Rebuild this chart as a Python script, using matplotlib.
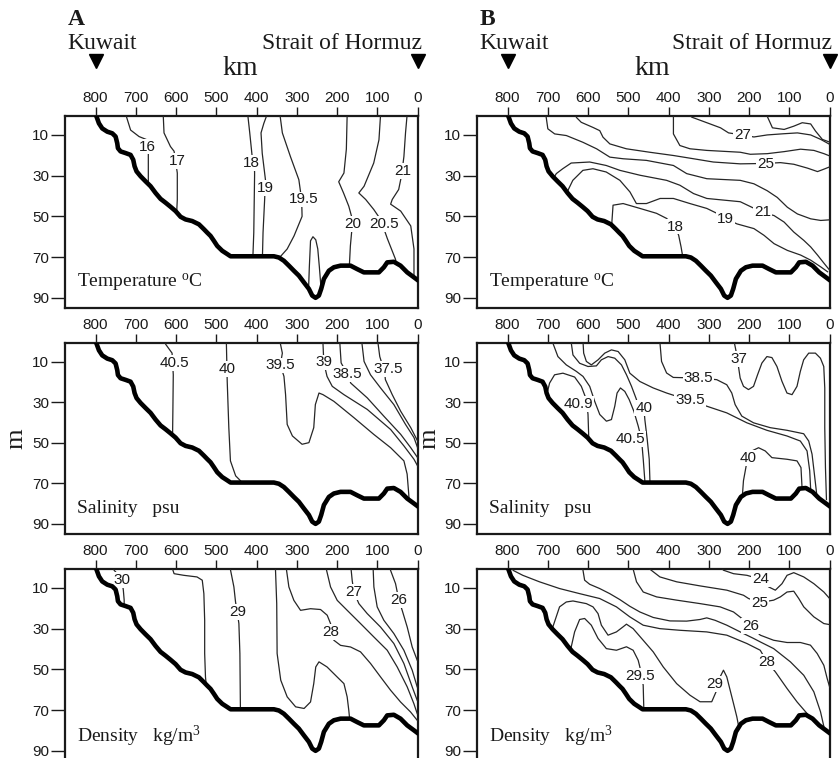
import matplotlib
matplotlib.use("Agg")
import matplotlib.pyplot as plt
from matplotlib.patches import Polygon

# ---------------- data ----------------
KM_TICKS = [800, 700, 600, 500, 400, 300, 200, 100, 0]
DEPTH_TICKS = [10, 30, 50, 70, 90]

# bottom profile (km from Strait of Hormuz, depth m)
BATHY_KM = [800, 797.5, 791.7, 783.5, 771, 758.6, 750.3, 746.2, 744.5, 737.9, 725.5, 713.1, 706.5,
            703.1, 698.2, 688.2, 675.8, 663.4, 651, 638.6, 626.1, 613.7, 601.3, 588.9, 576.5,
            559.9, 543.3, 530.9, 522.6, 514.4, 506.1, 497.8, 485.4, 473, 464.7, 357, 344.6,
            332.2, 319.8, 307.4, 295, 282.5, 270.1, 261.8, 253.5, 245.3, 239.5, 232.8, 220.4,
            208, 191.4, 166.6, 150, 133.5, 96.2, 83.8, 75.5, 59, 42.4, 25.8, 9.3, -1.5]
BATHY_D = [0, 1.1, 4.3, 6.8, 8.4, 9.2, 10.8, 14.1, 16.5, 18.1, 18.9, 19.8, 22.2,
           25.4, 27.9, 30.3, 32.8, 35.2, 38.5, 41.4, 43.3, 45.3, 47.4, 50.2, 51.5,
           52.3, 53.9, 56.3, 58, 59.6, 62, 64.5, 66.9, 68.5, 69.6, 69.6, 70.2,
           71.8, 74.2, 76.7, 79.1, 82.4, 85.6, 88.9, 90, 88.9, 85.6, 80.7, 76.7,
           75, 74.2, 74.2, 75.9, 77.5, 77.5, 75, 72.6, 72.3, 74.2, 77.5, 79.9, 81.5]

# Temperature, winter (A)
TEMP_A_LINES = [
    ([725, 713, 692, 672, 669, 669], [0, 7.6, 10.8, 12.4, 17, 36]),                        # 16
    ([632, 630, 614, 605, 597, 597, 599], [0, 9, 15.7, 18, 28.7, 41.7, 50]),              # 17
    ([422, 417, 411, 405, 405, 407, 410], [0, 9, 20.6, 28, 30, 58, 74]),                  # 18
    ([374, 382, 389, 386, 378, 380, 384, 386], [0, 4.3, 9, 19, 32, 41.7, 58, 74]),        # 19
    ([342, 336, 316, 295, 288, 287, 307, 324, 342, 352], [0, 9, 20.6, 32, 42, 50, 59.6, 66, 70, 73]),  # 19.5
    ([272, 269, 266, 260, 253, 248, 244, 240], [92, 75, 62, 60, 61.5, 66, 75, 85]),       # 19.5 tongue
    ([175, 177, 183, 196, 184, 171, 162, 164, 167, 171], [0, 17, 28.7, 33, 38.5, 45, 51.5, 58, 64.5, 80]),  # 20
    ([92, 96, 109, 133, 146, 129, 109, 92, 75, 55, 48], [0, 12.4, 23.8, 35.2, 38.5, 41.7, 46.6, 51.5, 61, 71, 78]),  # 20.5
    ([26, 30, 34, 40, 47, 63, 67, 42, 17, 9, 9], [0, 9, 20.6, 30, 36.8, 41.7, 44, 47.4, 54.7, 66, 82]),  # 21
]
TEMP_A_LABELS = [("16", 672, 15.7), ("17", 597, 23), ("18", 413, 23.8), ("19", 378, 36),
                 ("19.5", 284, 41.7), ("20", 162, 53.9), ("20.5", 84, 53.9), ("21", 38, 27.9)]

# Temperature, summer (B)
TEMP_B_LINES = [
    ([157, 150, 142, 113, 89, 68, 47, 35, 18, 0], [0, 3, 6.5, 7.3, 5.7, 4, 4.6, 8.1, 12.2, 13.5]),
    ([350, 342, 305, 271, 251, 217, 188, 155, 113, 80, 47, 22, 0],
     [0, 1.3, 4, 6.5, 9, 10, 11, 10, 9.4, 9, 10, 12.2, 14.6]),                                     # 27
    ([389, 388, 388, 372, 347, 305, 222, 197, 155, 113, 72, 39, 14, 0],
     [0, 1.4, 9.5, 15.2, 16.8, 17.6, 18.5, 19.5, 19.2, 18.2, 17, 17.6, 19.2, 20.3]),               # 26
    ([631, 629, 617, 588, 571, 563, 546, 505, 447, 388, 338, 289, 222, 159, 122, 89, 55, 30, 14, 0],
     [0, 1.4, 3.8, 6.3, 7.9, 11.1, 14.4, 16.8, 18.5, 20.1, 21.7, 23.3, 24.2, 24, 23.6, 24.4, 26.3, 28, 26.8, 25.7]),  # 25
    ([706, 704, 700, 683, 654, 613, 579, 546, 513, 455, 388, 355, 305, 222, 188, 155, 130, 105, 80, 47, 22, 0],
     [0, 1.4, 7, 9.5, 10.3, 13.6, 16.8, 20.9, 21.7, 22.5, 25, 29, 31.5, 32.3, 34, 37.4, 40.7, 45.5, 48.8, 51.2, 52, 51.7]),  # 23
    ([685, 679, 663, 642, 596, 555, 521, 471, 405, 372, 338, 305, 222, 167, 138, 113, 89, 64, 47, 30, 14, 0],
     [31, 29, 26.6, 23.8, 23.3, 25, 27.4, 29.8, 32.3, 34.7, 38.8, 41.2, 42.8, 48, 49.6, 52.8, 57.7, 61.8, 65, 69, 73, 76.4]),  # 21
    ([655, 650, 638, 613, 588, 555, 521, 496, 480, 455, 421, 388, 347, 305, 280, 259, 230, 188, 163, 138, 105, 72, 47, 22, 5],
     [42, 37.2, 32.3, 27.4, 26.6, 28.2, 32.3, 38, 43.7, 43.7, 41.2, 41.2, 43.7, 46.1, 48.5, 51, 53.7, 56, 59.3, 63.4, 66.7, 69, 71.5, 74.8, 77.2]),  # 19
    ([542, 538, 513, 471, 430, 405, 384, 375, 369, 363], [56, 44.5, 43.7, 46.1, 48.5, 51, 55, 59.3, 65, 72]),  # 18
]
TEMP_B_LABELS = [("27", 217, 10.1), ("25", 159, 24.1), ("21", 167, 48), ("19", 259, 51.2), ("18", 384, 55)]

# Salinity, winter (A)
SAL_A_LINES = [
    ([628, 626, 610, 607, 608, 609], [0, 1.3, 5.7, 16.4, 34.4, 50]),                                # 40.5
    ([475, 475, 473, 469, 465, 452, 440, 430], [0, 1.3, 19.6, 42.5, 58.9, 66.3, 68.7, 72]),         # 40
    ([342, 336, 341, 332, 328, 324, 311, 287, 270, 258, 254, 245, 235, 208, 158, 109, 67, 34, 26, 22, 20],
     [0, 5.7, 11.5, 17.2, 26.2, 40.9, 46.6, 50.7, 49.9, 42.5, 31.1, 25.4, 26.2, 29.5, 37.6, 45.8, 52.4, 58.9, 65.4, 75.3, 82]),  # 39.5
    ([235, 235, 233, 225, 212, 183, 125, 67, 34, 9, 0], [0, 1.3, 10.3, 17.2, 22.1, 26.2, 33.5, 43.4, 51.5, 58.1, 61.4]),  # 39
    ([193, 193, 190, 175, 166, 125, 84, 42, 17, 0], [0, 1.3, 10.5, 16, 20.5, 27.8, 36.8, 45.8, 52.4, 57.3]),  # 38.5
    ([138, 138, 133, 117, 92, 59, 30, 9, 0], [0, 1.3, 9.8, 16.4, 22.9, 31.1, 40.9, 47.4, 52.4]),    # 38
    ([98, 98, 94, 82, 80, 63, 42, 17, 0], [0, 1.3, 7.4, 15, 18.8, 26.2, 34.4, 42.5, 49.1]),         # 37.5
]
SAL_A_LABELS = [("40.5", 603, 10.6), ("40", 473, 13.4), ("39.5", 341, 11.8), ("39", 233, 10.3),
                ("38.5", 175, 15.9), ("37.5", 72, 13.4)]

# Salinity, summer (B)
SAL_B_LINES = [
    ([237.2, 230.6, 226.4, 222.2, 213.9, 201.5, 189, 179, 168.2, 155.8, 143.3, 130.8, 118.4, 105.9, 93.4,
      81, 72.7, 64.4, 51.9, 35.3, 22.8, 14.5, 12, 12, 10.3, 7.8],
     [0, 6.5, 12.3, 18, 22.1, 23.7, 22.1, 16.4, 10.6, 7.4, 7.9, 12.3, 19.6, 25.4, 26.2,
      22.1, 14.7, 9, 5.7, 5.7, 8.2, 12.3, 22.9, 42.5, 62.2, 78]),                                   # 37
    ([421.7, 417.5, 405, 388.4, 326, 280.4, 255.5, 243, 234.7, 218.1, 189, 147.5, 105.9, 64.4, 51.9, 43.6, 37.8, 31.1],
     [0, 9.8, 15.5, 17.7, 18, 18.8, 21.3, 25.4, 31.1, 36.8, 40.1, 42.5, 43.8, 45.5, 49.1, 55.6, 65.4, 77]),  # 38.5
    ([612.6, 611, 604.3, 591.9, 575.2, 558.6, 542, 525.4, 508.8, 496.3, 471.4, 438.1, 404.9, 380, 346.7,
      305.3, 255.5, 205.6, 155.8, 105.9, 72.7, 56, 49.4, 46],
     [0, 5.7, 9.8, 11.5, 9, 5.7, 4.1, 4.9, 9, 15.6, 19.7, 22.9, 25.4, 27, 28.6,
      31.9, 35.2, 40.1, 43.8, 46.6, 49.1, 54, 63.8, 77]),                                            # 39.5
    ([642, 641.7, 637.6, 621, 600.2, 579.4, 567, 550.3, 533.7, 517.1, 504.6, 492.1, 481.3, 475.5, 461.4,
      459, 453.1, 448.1, 446.4, 446],
     [0, 0.8, 6.6, 10.7, 12.3, 12, 9, 7.4, 8.2, 11.5, 16.4, 22.1, 27.8, 31.1, 32.7,
      38.5, 48.3, 58.1, 68.7, 74]),                                                                   # 40
    ([688, 687.4, 675, 654.2, 629.3, 612.6, 596, 583.6, 571, 554.5, 542, 533.7, 528, 519.6, 508.8, 498,
      486.3, 475.5, 467.2, 463, 459, 458],
     [0, 0.8, 7.4, 11.5, 14.7, 17.2, 22.1, 29.5, 36, 39.3, 38.5, 31.9, 25.4, 22.9, 24.6, 28.6,
      34.4, 41.7, 48.3, 58.1, 68.7, 74]),                                                             # 40.5
    ([700, 695.7, 683.3, 662.5, 633.4, 616.8, 604.3, 600.2, 598.5, 598],
     [24, 20.5, 16.4, 15.6, 17.5, 22.1, 28.6, 36, 46.6, 53]),                                         # 40.9
    ([218.1, 214, 207.3, 203.1, 193.2, 176.5, 159.9, 143.3, 105.9, 81, 71.1, 68.5, 68.5],
     [80, 68.7, 61.4, 57.3, 54, 52.4, 54, 57.3, 58.1, 58.9, 62.2, 72, 78]),                          # 40 (deep)
]
SAL_B_LABELS = [("37", 226.4, 8.5), ("38.5", 326, 18), ("39.5", 346.7, 28.6), ("40", 461.4, 32.7),
                ("40.9", 625, 31), ("40.5", 494, 48), ("40", 203.1, 57.3)]

# Density, winter (A)
DEN_A_LINES = [
    ([756, 754, 744, 734, 731, 729, 729], [0, 1.3, 3.5, 7, 11.2, 16, 22]),                           # 30
    ([610, 605, 581, 548, 535, 531, 529, 529, 527, 523], [0, 3, 3.8, 4.6, 6.2, 12.8, 25.9, 42.2, 53.7, 62]),  # 29.5
    ([465, 464.7, 456.4, 452.3, 448, 444, 441.5, 440], [0, 1.3, 9.5, 16.9, 22, 27.5, 42.2, 74]),     # 29
    ([354, 353, 350, 349, 340, 324, 303, 282, 266, 258, 253, 245, 225, 200, 183, 175, 171, 167],
     [0, 1.3, 17.7, 42.2, 55.3, 63.5, 68.4, 69.2, 66, 57, 48.8, 46.3, 48.8, 53.7, 57, 63.5, 70, 78]),  # 28.5
    ([327, 325.6, 319.8, 307.4, 290.8, 266, 241.1, 224.6, 216.3, 208, 191.4, 166.6, 141.8, 116.9, 92.1, 67.3, 42.4, 17.6, 1],
     [0, 1.3, 9.5, 16.1, 21, 20.2, 20.6, 23.4, 27.5, 35.7, 38.2, 39, 41.4, 47.1, 53.7, 60.2, 66, 70.9, 75]),  # 28
    ([228, 226.2, 216.3, 199.7, 174.9, 141.8, 108.6, 75.5, 50.7, 25.8, 9.3, 1],
     [0, 1.3, 9.5, 16.1, 21, 27.5, 34.1, 40.6, 48.8, 58.6, 66.8, 71.7]),                            # 27.5
    ([166, 165, 162.5, 158.3, 145.9, 125.2, 92.1, 59, 34.1, 13.4, 1],
     [0, 1.3, 6.3, 12, 17.7, 22.6, 29.2, 37.3, 47.1, 58.6, 65.2]),                                  # 27
    ([111, 110.3, 108.6, 100.4, 83.8, 59, 34.1, 13.4, 1], [0, 1.3, 9.5, 19.3, 25.9, 32.4, 40.6, 50.4, 58.6]),  # 26.5
    ([68, 67.3, 54.8, 46.5, 38.3, 25.8, 13.4, 1], [0, 1.3, 7.9, 16, 21, 29.2, 39, 45.5]),             # 26
]
DEN_A_LABELS = [("30", 733.8, 5.9), ("29", 446.5, 21.8), ("28", 214.6, 31.6), ("27", 158.3, 12), ("26", 46.5, 16.1)]

# Density, summer (B)
DEN_B_LINES = [
    ([270, 263.6, 238.7, 205.4, 172.2, 151.4, 134.8, 118.2, 105.7, 89.1, 64.2, 39.2, 14.3, 0],
     [0, 1.3, 3, 3.8, 5.7, 9.5, 11.1, 7.9, 3.8, 2.5, 4.6, 7.9, 12, 15.2]),                          # 24
    ([448, 446.4, 421.5, 379.9, 321.8, 255.3, 213.8, 201.3, 173.9, 139, 122.3, 105.7, 89.1, 76.6, 64.2, 39.2, 14.3, 0],
     [0, 0.8, 4.6, 7, 9, 11.1, 13.6, 15.2, 17.2, 16, 14.4, 12, 11.6, 15.2, 19.3, 24.2, 27.5, 28]),   # 25
    ([490, 488, 479.7, 463, 429.8, 379.9, 321.8, 271.9, 238.7, 217.9, 197.1, 172.2, 139, 105.7, 72.5, 47.6, 30.9, 14.3, 6, 0],
     [0, 0.8, 7, 12, 14.4, 16, 17.7, 19.3, 21.8, 25, 28.6, 33.2, 35.7, 36.8, 36.8, 38.1, 42.2, 48, 54.5, 58.6]),  # 26
    ([614, 612.7, 608.6, 596.1, 571.2, 546.2, 521.3, 496.4, 471.4, 438.2, 396.7, 355.1, 321.9, 305.2, 284.5,
      255.4, 222.1, 188.9, 172.3, 139, 97.4, 64.2, 39.2, 22.6, 14.3],
     [0, 1.3, 6.2, 8.2, 10.3, 12.8, 15.7, 19, 21.8, 24.5, 26.2, 26.3, 25.5, 24.7, 25.9,
      28.3, 31.6, 34.8, 36.5, 39.8, 46.3, 52.9, 61, 70.8, 78]),                                      # 27
    ([793, 785, 762.3, 720.7, 670.9, 621, 571.2, 529.6, 496.4, 463.1, 421.6, 371.7, 305.2, 255.4, 205.5,
      172.3, 155.6, 134.8, 105.7, 80.8, 55.9, 43.4],
     [0, 1.5, 3.8, 7, 10.3, 12.8, 15.2, 19.3, 24.2, 28.3, 30, 30.8, 31.6, 33.2, 37.3,
      40.6, 46.3, 51.2, 59.4, 66, 71.7, 76]),                                                         # 28
    ([690, 687.5, 670.9, 654.2, 637.6, 604.4, 587.8, 575.3, 567, 550.4, 529.6, 513, 504.7, 488.1, 463.1,
      438.2, 413.3, 380, 346.8, 321.9, 292.8, 280.3, 272, 263.7, 255.4, 247.1, 238.8, 230.5, 222],
     [33, 29.1, 19.3, 16.9, 16.4, 17.7, 19.3, 22.6, 28.3, 33.2, 31.6, 29.1, 27.8, 30, 35.7,
      41.4, 48.8, 57, 62.7, 65.9, 65.9, 60.2, 53.7, 50.4, 53.7, 60.2, 66.7, 73.3, 82]),            # 29
    ([645, 641.8, 633.5, 621, 608.6, 592, 575.3, 554.6, 529.6, 504.7, 488.1, 475.6, 471.4, 463.1, 461.5, 461],
     [44, 38.9, 31.6, 25.5, 25, 28.3, 34.8, 39.8, 40.6, 38.9, 40.6, 45.5, 48.8, 57.8, 70, 74]),     # 29.5
]
DEN_B_LABELS = [("24", 172.2, 5.7), ("25", 173.9, 17.2), ("26", 197.1, 28.6), ("28", 155.6, 46.3),
                ("29", 284.5, 57.3), ("29.5", 471.4, 53.3)]

PANEL_TITLES = [r"Temperature $^{\mathrm{o}}$C", r"Salinity   psu", r"Density   kg/m$^{3}$"]

# ---------------- drawing ----------------
SERIF = ['Liberation Serif', 'DejaVu Serif']
SANS = ['Liberation Sans', 'DejaVu Sans']
plt.rcParams['font.family'] = SANS
plt.rcParams['mathtext.fontset'] = 'custom'
plt.rcParams['mathtext.rm'] = 'Liberation Serif'
plt.rcParams['mathtext.it'] = 'Liberation Serif:italic'

W, H = 838, 758
fig = plt.figure(figsize=(W / 100, H / 100), dpi=100)
fig.patch.set_facecolor('white')

COL_X = [65, 477]
ROWS = [(116, 308), (343, 534), (569, 761)]
PANELS = [[(TEMP_A_LINES, TEMP_A_LABELS), (TEMP_B_LINES, TEMP_B_LABELS)],
          [(SAL_A_LINES, SAL_A_LABELS), (SAL_B_LINES, SAL_B_LABELS)],
          [(DEN_A_LINES, DEN_A_LABELS), (DEN_B_LINES, DEN_B_LABELS)]]
INK = '#1a1a1a'

for r, (top, bot) in enumerate(ROWS):
    for c, x0 in enumerate(COL_X):
        ax = fig.add_axes([x0 / W, 1 - bot / H, 353 / W, (bot - top) / H])
        ax.set_xlim(876, -1)
        ax.set_ylim(95, 0.7)
        ax.xaxis.tick_top()
        ax.set_xticks(KM_TICKS)
        ax.set_xticklabels([str(k) for k in KM_TICKS])
        ax.set_yticks(DEPTH_TICKS)
        ax.set_yticklabels([str(d) for d in DEPTH_TICKS])
        ax.tick_params(axis='x', direction='out', length=6.5, width=1.0, pad=1.5,
                       labelsize=11, colors=INK, top=True, bottom=False)
        ax.tick_params(axis='y', direction='out', length=10, width=1.0, pad=1.5,
                       labelsize=11, colors=INK, left=True, right=False)
        for s in ax.spines.values():
            s.set_linewidth(1.6)
            s.set_color(INK)

        # water region used to clip the isolines at the sea floor
        verts = [(BATHY_KM[0], -5)] + list(zip(BATHY_KM, BATHY_D)) + [(-10, BATHY_D[-1]), (-10, -5)]
        water = Polygon(verts, closed=True, transform=ax.transData, fc='none', ec='none')
        ax.add_patch(water)

        lines, labels = PANELS[r][c]
        for km, dep in lines:
            ln, = ax.plot(km, dep, color='#262626', lw=0.9, solid_joinstyle='round', zorder=3)
            ln.set_clip_path(water)
        for txt, km, dep in labels:
            ax.text(km, dep, txt, ha='center', va='center', fontsize=11, color=INK, zorder=6,
                    bbox=dict(boxstyle='square,pad=0.06', fc='white', ec='none'))

        ax.plot(BATHY_KM, BATHY_D, color='black', lw=3.3, solid_joinstyle='round',
                solid_capstyle='round', zorder=7)

        ax.text(0.034, 0.11 if r < 2 else 0.10, PANEL_TITLES[r], transform=ax.transAxes,
                fontsize=14, family=SERIF, color=INK, va='baseline', ha='left')

        if r == 0:
            xt = ax.get_xaxis_transform()
            ax.plot([800, 0], [1.286, 1.286], marker='v', ls='none', color='black', ms=9.5,
                    transform=xt, clip_on=False)
            ax.text(440, 1.214, 'km', transform=xt, ha='center', va='baseline',
                    fontsize=20, family=SERIF, color=INK)
        if r == 1:
            ax.text(-0.138 if c == 0 else -0.135, 0.5, 'm', rotation=90, transform=ax.transAxes,
                    ha='center', va='center', fontsize=19, family=SERIF, color=INK)

# header texts
for letter, xl, xs in [('A', 68, 262), ('B', 480, 672)]:
    fig.text(xl / W, 1 - 25 / H, letter, fontsize=17, weight='bold', family=SERIF,
             color=INK, va='baseline', ha='left')
    fig.text((xl - 1) / W, 1 - 49 / H, 'Kuwait', fontsize=17, family=SERIF,
             color=INK, va='baseline', ha='left')
    fig.text(xs / W, 1 - 49 / H, 'Strait of Hormuz', fontsize=17, family=SERIF,
             color=INK, va='baseline', ha='left')

fig.savefig('out.png', dpi=100, facecolor='white')
